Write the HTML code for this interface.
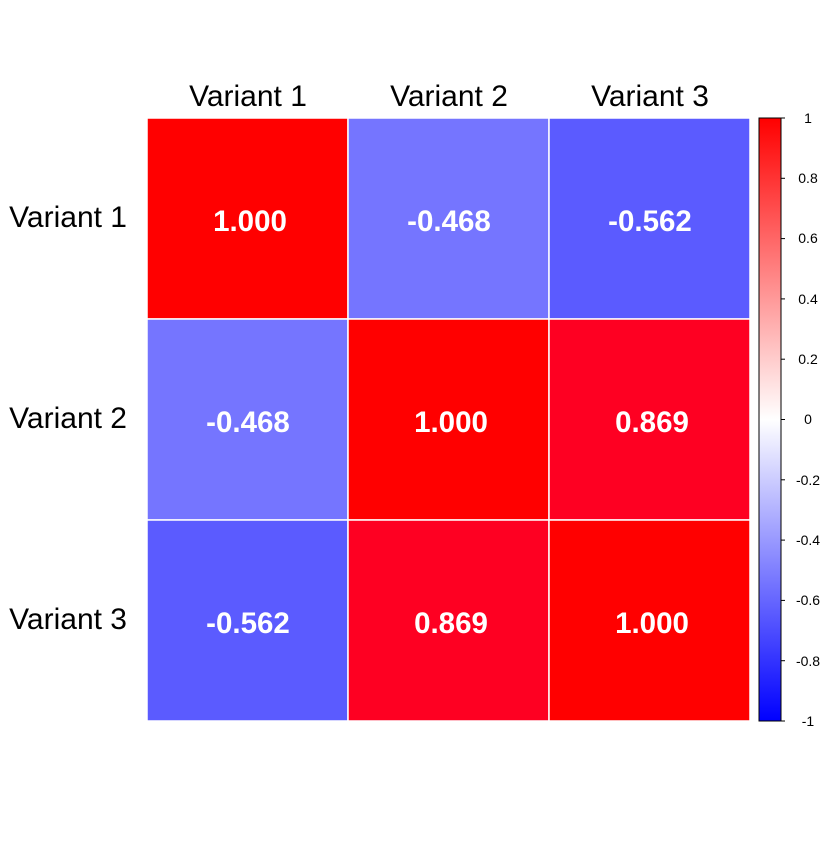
<!DOCTYPE html>
<html><head><style>
body{margin:0;background:#fff;}
</style></head><body>
<svg width="840" height="840" xmlns="http://www.w3.org/2000/svg" font-family="Liberation Sans, Arial, sans-serif">
<defs>
<linearGradient id="g" x1="0" y1="1" x2="0" y2="0">
<stop offset="0" stop-color="#0000FF"/>
<stop offset="0.5" stop-color="#FFFFFF"/>
<stop offset="1" stop-color="#FF0000"/>
</linearGradient>
</defs>
<g stroke="#fff" stroke-width="1.5">
<rect x="147" y="118" width="201" height="201" fill="#FF0000"/>
<rect x="348" y="118" width="201" height="201" fill="#7575FF"/>
<rect x="549" y="118" width="201" height="201" fill="#5B5BFF"/>
<rect x="147" y="319" width="201" height="201" fill="#7575FF"/>
<rect x="348" y="319" width="201" height="201" fill="#FF0000"/>
<rect x="549" y="319" width="201" height="201" fill="#FE0022"/>
<rect x="147" y="520" width="201" height="201" fill="#5B5BFF"/>
<rect x="348" y="520" width="201" height="201" fill="#FE0022"/>
<rect x="549" y="520" width="201" height="201" fill="#FF0000"/>
</g>
<g fill="#fff" font-weight="bold" font-size="29.5" text-anchor="middle">
<text x="250" y="231">1.000</text><text x="449" y="231">-0.468</text><text x="650" y="231">-0.562</text>
<text x="248" y="432">-0.468</text><text x="451" y="432">1.000</text><text x="652" y="432">0.869</text>
<text x="248" y="633">-0.562</text><text x="451" y="633">0.869</text><text x="652" y="633">1.000</text>
</g>
<g fill="#000" font-size="30" text-anchor="middle">
<text x="248" y="106">Variant 1</text><text x="449" y="106">Variant 2</text><text x="650" y="106">Variant 3</text>
</g>
<g fill="#000" font-size="30" text-anchor="end">
<text x="127" y="227">Variant 1</text><text x="127" y="428">Variant 2</text><text x="127" y="629">Variant 3</text>
</g>
<rect x="759" y="118" width="22" height="603" fill="url(#g)" stroke="#000" stroke-width="1"/>
<g stroke="#000" stroke-width="1">
<line x1="781" y1="118" x2="785" y2="118"/><line x1="781" y1="178.3" x2="785" y2="178.3"/>
<line x1="781" y1="238.6" x2="785" y2="238.6"/><line x1="781" y1="298.9" x2="785" y2="298.9"/>
<line x1="781" y1="359.2" x2="785" y2="359.2"/><line x1="781" y1="419.5" x2="785" y2="419.5"/>
<line x1="781" y1="479.8" x2="785" y2="479.8"/><line x1="781" y1="540.1" x2="785" y2="540.1"/>
<line x1="781" y1="600.4" x2="785" y2="600.4"/><line x1="781" y1="660.7" x2="785" y2="660.7"/>
<line x1="781" y1="721" x2="785" y2="721"/>
</g>
<g fill="#000" font-size="14" text-anchor="middle">
<text x="808" y="123">1</text><text x="808" y="183">0.8</text><text x="808" y="243">0.6</text>
<text x="808" y="304">0.4</text><text x="808" y="364">0.2</text><text x="808" y="424">0</text>
<text x="808" y="485">-0.2</text><text x="808" y="545">-0.4</text><text x="808" y="605">-0.6</text>
<text x="808" y="666">-0.8</text><text x="808" y="726">-1</text>
</g>
</svg>
</body></html>
